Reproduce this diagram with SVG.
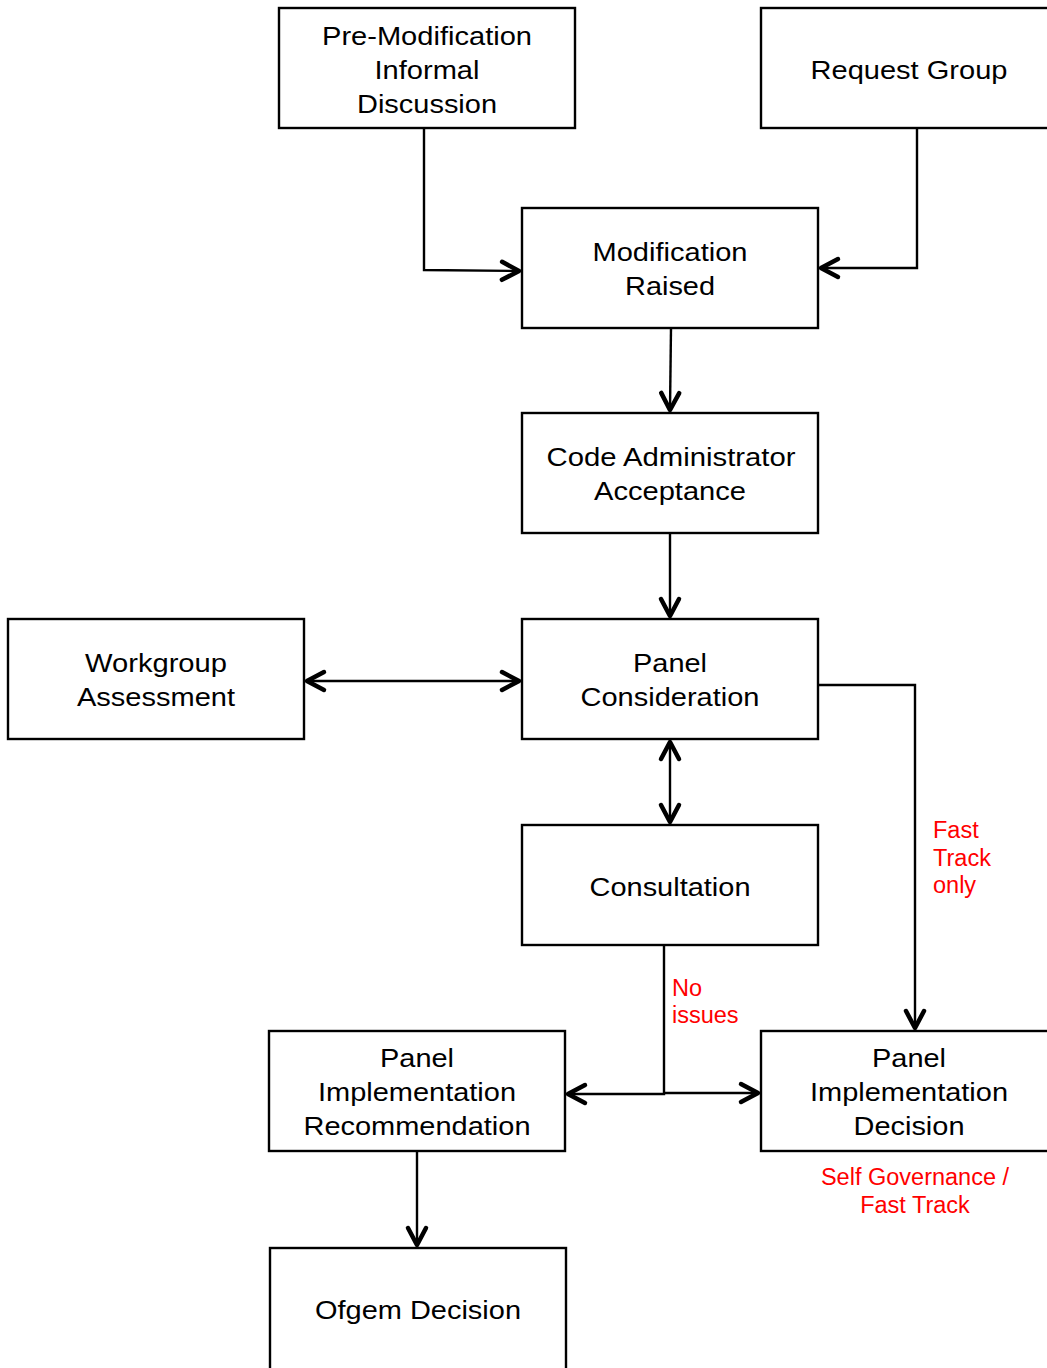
<svg xmlns="http://www.w3.org/2000/svg" width="1047" height="1368" viewBox="0 0 1047 1368">
<style>
.box{fill:#fff;stroke:#000;stroke-width:2.4}
.t{font-family:"Liberation Sans",Arial,sans-serif;font-size:25.5px;fill:#000;text-anchor:middle}
.r{font-family:"Liberation Sans",Arial,sans-serif;font-size:23.5px;fill:#ff0000}
.c{fill:none;stroke:#000;stroke-width:2.4}
</style>
<defs>
<marker id="ae" viewBox="-24 -14 30 28" refX="0" refY="0" markerWidth="30" markerHeight="28" markerUnits="userSpaceOnUse" orient="auto">
<path d="M-17,-9 L0,0 L-17,9" fill="none" stroke="#000" stroke-width="4.5" stroke-linecap="round" stroke-linejoin="round"/>
</marker>
<marker id="as" viewBox="-24 -14 30 28" refX="0" refY="0" markerWidth="30" markerHeight="28" markerUnits="userSpaceOnUse" orient="auto-start-reverse">
<path d="M-17,-9 L0,0 L-17,9" fill="none" stroke="#000" stroke-width="4.5" stroke-linecap="round" stroke-linejoin="round"/>
</marker>
</defs>
<rect width="1047" height="1368" fill="#fff"/>
<g id="connectors">
<path class="c" d="M424,128 V270 L519,271" marker-end="url(#ae)"/>
<path class="c" d="M917,128 V268 H821" marker-end="url(#ae)"/>
<path class="c" d="M671,328 L670,410" marker-end="url(#ae)"/>
<path class="c" d="M670,533 V616" marker-end="url(#ae)"/>
<path class="c" d="M307,681 H519" marker-start="url(#as)" marker-end="url(#ae)"/>
<path class="c" d="M670,742 V822" marker-start="url(#as)" marker-end="url(#ae)"/>
<path class="c" d="M818,685 H915 V1028" marker-end="url(#ae)"/>
<path class="c" d="M664,945 V1094 H568" marker-end="url(#ae)"/>
<path class="c" d="M664,1093 H758" marker-end="url(#ae)"/>
<path class="c" d="M417,1151 V1245" marker-end="url(#ae)"/>
</g>
<g id="n-premod">
<rect class="box" x="279" y="8" width="296" height="120"/>
<text class="t" x="427" y="45" textLength="210" lengthAdjust="spacingAndGlyphs">Pre-Modification</text>
<text class="t" x="427" y="79" textLength="105" lengthAdjust="spacingAndGlyphs">Informal</text>
<text class="t" x="427" y="113" textLength="140" lengthAdjust="spacingAndGlyphs">Discussion</text>
</g>
<g id="n-request">
<rect class="box" x="761" y="8" width="300" height="120"/>
<text class="t" x="909" y="79" textLength="197" lengthAdjust="spacingAndGlyphs">Request Group</text>
</g>
<g id="n-modraised">
<rect class="box" x="522" y="208" width="296" height="120"/>
<text class="t" x="670" y="261" textLength="155" lengthAdjust="spacingAndGlyphs">Modification</text>
<text class="t" x="670" y="295" textLength="90" lengthAdjust="spacingAndGlyphs">Raised</text>
</g>
<g id="n-codeadmin">
<rect class="box" x="522" y="413" width="296" height="120"/>
<text class="t" x="671" y="466" textLength="249" lengthAdjust="spacingAndGlyphs">Code Administrator</text>
<text class="t" x="670" y="500" textLength="152" lengthAdjust="spacingAndGlyphs">Acceptance</text>
</g>
<g id="n-panelcons">
<rect class="box" x="522" y="619" width="296" height="120"/>
<text class="t" x="670" y="672" textLength="74" lengthAdjust="spacingAndGlyphs">Panel</text>
<text class="t" x="670" y="706" textLength="179" lengthAdjust="spacingAndGlyphs">Consideration</text>
</g>
<g id="n-workgroup">
<rect class="box" x="8" y="619" width="296" height="120"/>
<text class="t" x="156" y="672" textLength="142" lengthAdjust="spacingAndGlyphs">Workgroup</text>
<text class="t" x="156" y="706" textLength="158" lengthAdjust="spacingAndGlyphs">Assessment</text>
</g>
<g id="n-consultation">
<rect class="box" x="522" y="825" width="296" height="120"/>
<text class="t" x="670" y="896" textLength="161" lengthAdjust="spacingAndGlyphs">Consultation</text>
</g>
<g id="n-implrec">
<rect class="box" x="269" y="1031" width="296" height="120"/>
<text class="t" x="417" y="1067" textLength="74" lengthAdjust="spacingAndGlyphs">Panel</text>
<text class="t" x="417" y="1101" textLength="198" lengthAdjust="spacingAndGlyphs">Implementation</text>
<text class="t" x="417" y="1135" textLength="227" lengthAdjust="spacingAndGlyphs">Recommendation</text>
</g>
<g id="n-impldec">
<rect class="box" x="761" y="1031" width="300" height="120"/>
<text class="t" x="909" y="1067" textLength="74" lengthAdjust="spacingAndGlyphs">Panel</text>
<text class="t" x="909" y="1101" textLength="198" lengthAdjust="spacingAndGlyphs">Implementation</text>
<text class="t" x="909" y="1135" textLength="111" lengthAdjust="spacingAndGlyphs">Decision</text>
</g>
<g id="n-ofgem">
<rect class="box" x="270" y="1248" width="296" height="124"/>
<text class="t" x="418" y="1319" textLength="206" lengthAdjust="spacingAndGlyphs">Ofgem Decision</text>
</g>
<g id="labels">
<text class="r" x="933" y="838">Fast</text>
<text class="r" x="933" y="866">Track</text>
<text class="r" x="933" y="893">only</text>
<text class="r" x="672" y="996">No</text>
<text class="r" x="672" y="1023">issues</text>
<text class="r" x="915" y="1185" text-anchor="middle">Self Governance /</text>
<text class="r" x="915" y="1213" text-anchor="middle">Fast Track</text>
</g>
</svg>
